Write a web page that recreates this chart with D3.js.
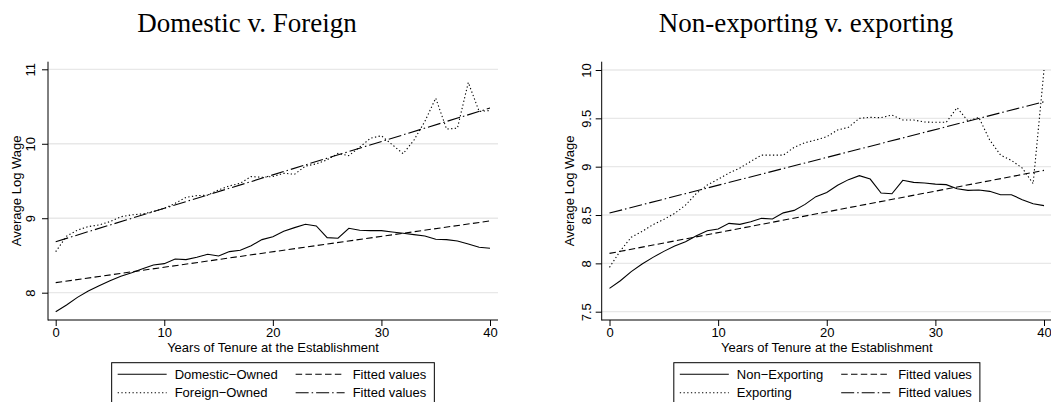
<!DOCTYPE html>
<html>
<head>
<meta charset="utf-8">
<script src="https://cdn.jsdelivr.net/npm/d3@7"></script>
<style>
body { margin: 0; background: #fff; }
svg { display: block; }
text { font-family: "Liberation Sans", Arial, Helvetica, sans-serif; font-size: 13px; fill: #000; }
.title { font-family: "Liberation Serif", "Times New Roman", serif; font-size: 27px; }
</style>
</head>
<body>
<svg id="chart" width="1051" height="402"></svg>
<script>
// tenure (years at the establishment)
const tenure = [0, 1, 2, 3, 4, 5, 6, 7, 8, 9, 10, 11, 12, 13, 14, 15, 16, 17, 18, 19, 20,
	21, 22, 23, 24, 25, 26, 27, 28, 29, 30, 31, 32, 33, 34, 35, 36, 37, 38, 39, 40];
const fitYears = [0, 40];

// panel 1: domestic v. foreign
const domesticOwned = [7.744, 7.834, 7.937, 8.022, 8.094, 8.161, 8.22, 8.269, 8.323, 8.372, 8.39,
	8.453, 8.444, 8.475, 8.516, 8.493, 8.552, 8.57, 8.632, 8.713, 8.75,
	8.825, 8.874, 8.919, 8.897, 8.74, 8.731, 8.865, 8.839, 8.834, 8.834,
	8.816, 8.798, 8.78, 8.762, 8.717, 8.713, 8.695, 8.655, 8.61, 8.596];
const foreignOwned = [8.551, 8.76, 8.84, 8.888, 8.91, 8.955, 9.02, 9.045, 9.058, 9.09, 9.134,
	9.2, 9.28, 9.304, 9.31, 9.38, 9.434, 9.47, 9.56, 9.55, 9.56,
	9.604, 9.59, 9.7, 9.73, 9.785, 9.87, 9.84, 9.955, 10.076, 10.107,
	9.987, 9.866, 10.05, 10.3, 10.613, 10.197, 10.21, 10.823, 10.434, 10.447];
const fitDomestic = [8.135, 8.964];
const fitForeign = [8.685, 10.479];

// panel 2: non-exporting v. exporting
const nonExporting = [7.741, 7.82, 7.914, 7.993, 8.062, 8.124, 8.18, 8.224, 8.285, 8.338, 8.355,
	8.414, 8.403, 8.431, 8.466, 8.459, 8.522, 8.548, 8.61, 8.69, 8.734,
	8.807, 8.866, 8.907, 8.872, 8.728, 8.72, 8.859, 8.838, 8.831, 8.82,
	8.814, 8.772, 8.755, 8.759, 8.745, 8.71, 8.71, 8.659, 8.617, 8.597];
const exporting = [7.959, 8.13, 8.27, 8.33, 8.4, 8.455, 8.517, 8.603, 8.724, 8.81, 8.87,
	8.934, 8.986, 9.055, 9.12, 9.12, 9.119, 9.2, 9.248, 9.276, 9.31,
	9.38, 9.407, 9.5, 9.51, 9.507, 9.534, 9.483, 9.483, 9.462, 9.459,
	9.459, 9.61, 9.472, 9.51, 9.276, 9.12, 9.065, 8.986, 8.824, 10.0];
const fitNonExp = [8.103, 8.962];
const fitExp = [8.52, 9.672];

const xTicks = [0, 10, 20, 30, 40];
const yTicksLeft = [8, 9, 10, 11];
const yTicksRight = [7.5, 8, 8.5, 9, 9.5, 10];

const styles = {
	solid: null,
	dotted: '1.3,2.4',
	dashed: '6.5,3.3',
	dashdot: '13,3,1.5,3'
};

const svg = d3.select('#chart');

function drawPanel(p) {
	const g = svg.append('g');

	const x = d3.scaleLinear().domain([0, 40]).range(p.xRange);
	const y = d3.scaleLinear().domain(p.yDomain).range(p.yRange);

	// gridlines
	g.selectAll('.grid')
		.data(p.yTicks)
		.enter()
		.append('line')
		.attr('x1', p.left)
		.attr('x2', p.right)
		.attr('y1', d => y(d))
		.attr('y2', d => y(d))
		.attr('stroke', '#e8e8e8')
		.attr('stroke-width', 1.3);

	// series
	p.series.forEach(s => {
		const pts = s.x.map((v, i) => [v, s.y[i]]);
		g.append('path')
			.datum(pts)
			.attr('fill', 'none')
			.attr('stroke', '#000')
			.attr('stroke-width', 1.1)
			.attr('stroke-dasharray', styles[s.style])
			.attr('d', d3.line().x(d => x(d[0])).y(d => y(d[1])));
	});

	// axes
	const yAxis = g.append('g')
		.attr('transform', `translate(${p.left},0)`)
		.call(d3.axisLeft(y).tickValues(p.yTicks).tickSize(6).tickFormat(d3.format('')));
	yAxis.select('.domain').remove();
	yAxis.selectAll('.tick line').attr('stroke', '#000');
	yAxis.selectAll('.tick text')
		.attr('transform', 'rotate(-90)')
		.attr('x', 0)
		.attr('y', -p.yLabelOffset)
		.attr('dy', 0)
		.attr('text-anchor', 'middle')
		.style('font-size', '13px');

	const xAxis = g.append('g')
		.attr('transform', `translate(0,${p.bottom})`)
		.call(d3.axisBottom(x).tickValues(xTicks).tickSize(6));
	xAxis.select('.domain').remove();
	xAxis.selectAll('.tick line').attr('stroke', '#000');
	xAxis.selectAll('.tick text').attr('y', 0).attr('dy', 16.8).style('font-size', '13px');

	g.append('line')
		.attr('x1', p.left).attr('x2', p.left)
		.attr('y1', p.top).attr('y2', p.bottom + 0.5)
		.attr('stroke', '#000');
	g.append('line')
		.attr('x1', p.left).attr('x2', p.right)
		.attr('y1', p.bottom).attr('y2', p.bottom)
		.attr('stroke', '#000');

	// titles
	g.append('text')
		.attr('class', 'title')
		.attr('x', p.titleX)
		.attr('y', 32)
		.attr('text-anchor', 'middle')
		.text(p.title);

	const midX = (p.left + p.right) / 2;
	const midY = (p.top + p.bottom) / 2;

	g.append('text')
		.attr('x', midX)
		.attr('y', 352)
		.attr('text-anchor', 'middle')
		.text('Years of Tenure at the Establishment');

	g.append('text')
		.attr('transform', `translate(${p.left - 27.5},${midY}) rotate(-90)`)
		.attr('text-anchor', 'middle')
		.text('Average Log Wage');

	// legend
	const leg = g.append('g');
	const box = leg.append('rect')
		.attr('fill', '#fff')
		.attr('stroke', '#000')
		.attr('stroke-width', 1);

	const rowY = [374.3, 392.7];
	const sampleW = 49;
	const col1 = [p.series[0], p.series[1]];
	const col2 = [p.series[2], p.series[3]];

	const t1 = col1.map((s, i) => leg.append('text').attr('y', rowY[i] + 4.6).text(s.label));
	const w1 = d3.max(t1, t => t.node().getComputedTextLength());
	const t2 = col2.map((s, i) => leg.append('text').attr('y', rowY[i] + 4.6).text(s.label));
	const w2 = d3.max(t2, t => t.node().getComputedTextLength());

	const boxW = 6 + sampleW + 8 + w1 + 18 + sampleW + 8 + w2 + 8;
	const boxX = midX - boxW / 2;
	box.attr('x', boxX).attr('y', 362.7).attr('width', boxW).attr('height', 42);

	const c1 = boxX + 6;
	const c2 = c1 + sampleW + 8 + w1 + 18;
	t1.forEach(t => t.attr('x', c1 + sampleW + 8));
	t2.forEach(t => t.attr('x', c2 + sampleW + 8));

	[[col1, c1], [col2, c2]].forEach(([col, cx]) => {
		col.forEach((s, i) => {
			leg.append('line')
				.attr('x1', cx).attr('x2', cx + sampleW)
				.attr('y1', rowY[i]).attr('y2', rowY[i])
				.attr('stroke', '#000')
				.attr('stroke-width', 1.1)
				.attr('stroke-dasharray', styles[s.style]);
		});
	});
}

drawPanel({
	title: 'Domestic v. Foreign',
	titleX: 247,
	left: 48, right: 498, top: 61.7, bottom: 320,
	xRange: [55.7, 490],
	yDomain: [8, 11], yRange: [292.7, 69.3],
	yTicks: yTicksLeft,
	yLabelOffset: 12.6,
	series: [
		{ label: 'Domestic\u2212Owned', x: tenure, y: domesticOwned, style: 'solid' },
		{ label: 'Foreign\u2212Owned', x: tenure, y: foreignOwned, style: 'dotted' },
		{ label: 'Fitted values', x: fitYears, y: fitDomestic, style: 'dashed' },
		{ label: 'Fitted values', x: fitYears, y: fitForeign, style: 'dashdot' }
	]
});

drawPanel({
	title: 'Non-exporting v. exporting',
	titleX: 806,
	left: 601.7, right: 1052, top: 61.7, bottom: 320,
	xRange: [609.5, 1044],
	yDomain: [7.5, 10], yRange: [311.7, 70],
	yTicks: yTicksRight,
	yLabelOffset: 10.5,
	series: [
		{ label: 'Non\u2212Exporting', x: tenure, y: nonExporting, style: 'solid' },
		{ label: 'Exporting', x: tenure, y: exporting, style: 'dotted' },
		{ label: 'Fitted values', x: fitYears, y: fitNonExp, style: 'dashed' },
		{ label: 'Fitted values', x: fitYears, y: fitExp, style: 'dashdot' }
	]
});
</script>
</body>
</html>
